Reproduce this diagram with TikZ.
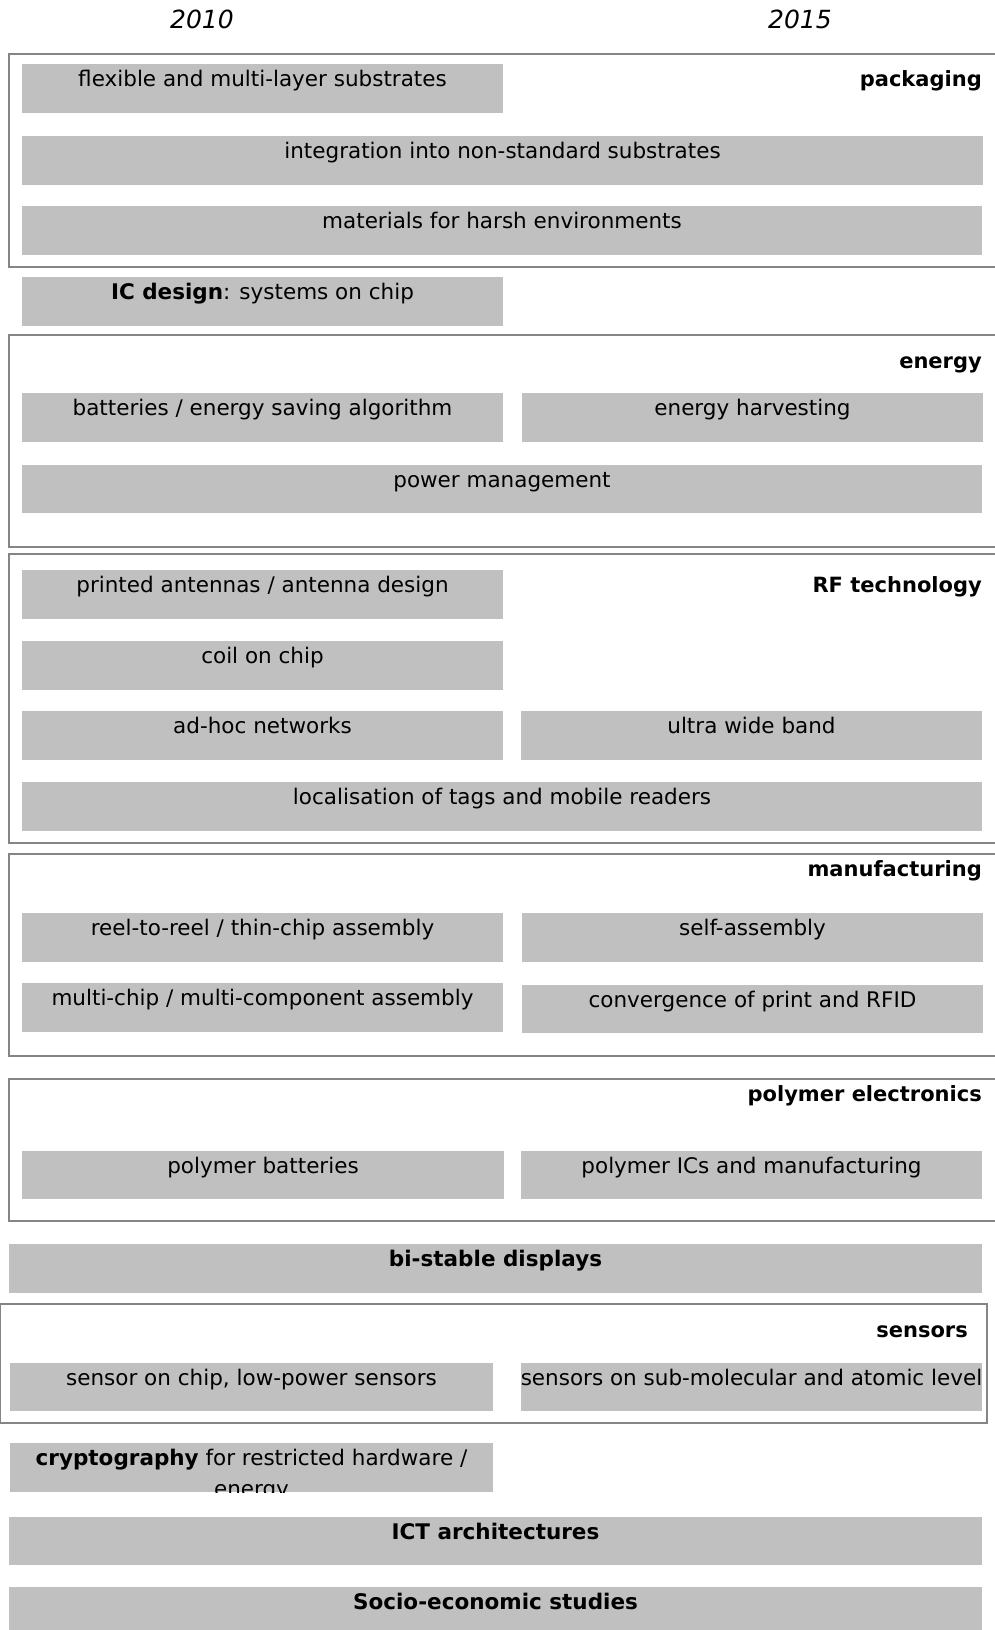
\documentclass[tikz,border=0pt]{standalone}
\usepackage{fontspec}
\setmainfont{DejaVu Sans}
\usetikzlibrary{fit}
\definecolor{boxgray}{HTML}{C0C0C0}
\definecolor{framegray}{HTML}{858585}
\tikzset{
  frame/.style={draw=framegray, line width=2pt, inner sep=0pt, outer sep=0pt},
  gbox/.style={fill=boxgray, inner sep=0pt, outer sep=0pt},
  btext/.style={anchor=base, inner sep=0pt, font=\fontsize{21.5}{25}\selectfont},
  flabel/.style={anchor=base east, inner sep=0pt, font=\fontsize{21}{25}\selectfont\bfseries},
  yearlabel/.style={anchor=base, inner sep=0pt, font=\fontsize{25}{30}\selectfont\itshape},
}
\newcommand\gb[6]{%
  \coordinate (#1-nw) at (#2,#3);
  \coordinate (#1-se) at (#4,#5);
  \node[gbox, fit=(#1-nw)(#1-se)] (#1) {};
  \node[btext] (#1-t) at ([yshift=-22pt]#1.north) {#6};
}
\newcommand\fr[5]{%
  \coordinate (#1-nw) at (#2,#3);
  \coordinate (#1-se) at (#4,#5);
  \node[frame, fit=(#1-nw)(#1-se)] (#1) {};
}
\begin{document}
\begin{tikzpicture}[x=1pt,y=-1pt]
\useasboundingbox[fill=white] (0,0) rectangle (994,1630);

% years
\node[yearlabel] (y2010) at (202,28) {2010};
\node[yearlabel] (y2015) at (800,28) {2015};

% frames
\fr{fpack}{9}{54}{1010}{267}
\fr{fenergy}{9}{335}{1010}{547}
\fr{frf}{9}{554}{1010}{843}
\fr{fmanu}{9}{854}{1010}{1056}
\fr{fpoly}{9}{1079}{1010}{1221}
\fr{fsens}{0}{1304}{987}{1423}

% frame labels
\node[flabel] (lpack) at (982,86) {packaging};
\node[flabel] (lenergy) at (982,368) {energy};
\node[flabel] (lrf) at (982,592) {RF technology};
\node[flabel] (lmanu) at (982,876) {manufacturing};
\node[flabel] (lpoly) at (982,1101) {polymer electronics};
\node[flabel] (lsens) at (968,1337) {sensors};

% packaging
\gb{b1}{22}{64}{503}{113}{flexible and multi-layer substrates}
\gb{b2}{22}{136}{983}{185}{integration into non-standard substrates}
\gb{b3}{22}{206}{982}{255}{materials for harsh environments}
% IC design
\gb{b4}{22}{277}{503}{326}{\textbf{IC design}: systems on chip}
% energy
\gb{b5}{22}{393}{503}{442}{batteries / energy saving algorithm}
\gb{b6}{522}{393}{983}{442}{energy harvesting}
\gb{b7}{22}{465}{982}{513}{power management}
% RF
\gb{b8}{22}{570}{503}{619}{printed antennas / antenna design}
\gb{b9}{22}{641}{503}{690}{coil on chip}
\gb{b10}{22}{711}{503}{760}{ad-hoc networks}
\gb{b11}{521}{711}{982}{760}{ultra wide band}
\gb{b12}{22}{782}{982}{831}{localisation of tags and mobile readers}
% manufacturing
\gb{b13}{22}{913}{503}{962}{reel-to-reel / thin-chip assembly}
\gb{b14}{522}{913}{983}{962}{self-assembly}
\gb{b15}{22}{983}{503}{1032}{multi-chip / multi-component assembly}
\gb{b16}{522}{985}{983}{1033}{convergence of print and RFID}
% polymer
\gb{b17}{22}{1151}{504}{1199}{polymer batteries}
\gb{b18}{521}{1151}{982}{1199}{polymer ICs and manufacturing}
% bi-stable
\gb{b19}{9}{1244}{982}{1293}{\textbf{bi-stable displays}}
% sensors
\gb{b20}{10}{1363}{493}{1411}{sensor on chip, low-power sensors}
\gb{b21}{521}{1363}{982}{1411}{sensors on sub-molecular and atomic level}
% cryptography
\coordinate (b22-nw) at (10,1443);
\coordinate (b22-se) at (493,1492);
\node[gbox, fit=(b22-nw)(b22-se)] (b22) {};
\begin{scope}
  \clip (10,1443) rectangle (493,1492);
  \node[btext] (b22-t) at ([yshift=-22pt]b22.north) {\textbf{cryptography} for restricted hardware /};
  \node[btext] (b22-u) at ([yshift=-53pt]b22.north) {energy};
\end{scope}
% ICT and socio
\gb{b23}{9}{1517}{982}{1565}{\textbf{ICT architectures}}
\gb{b24}{9}{1587}{982}{1640}{\textbf{Socio-economic studies}}
\end{tikzpicture}
\end{document}
